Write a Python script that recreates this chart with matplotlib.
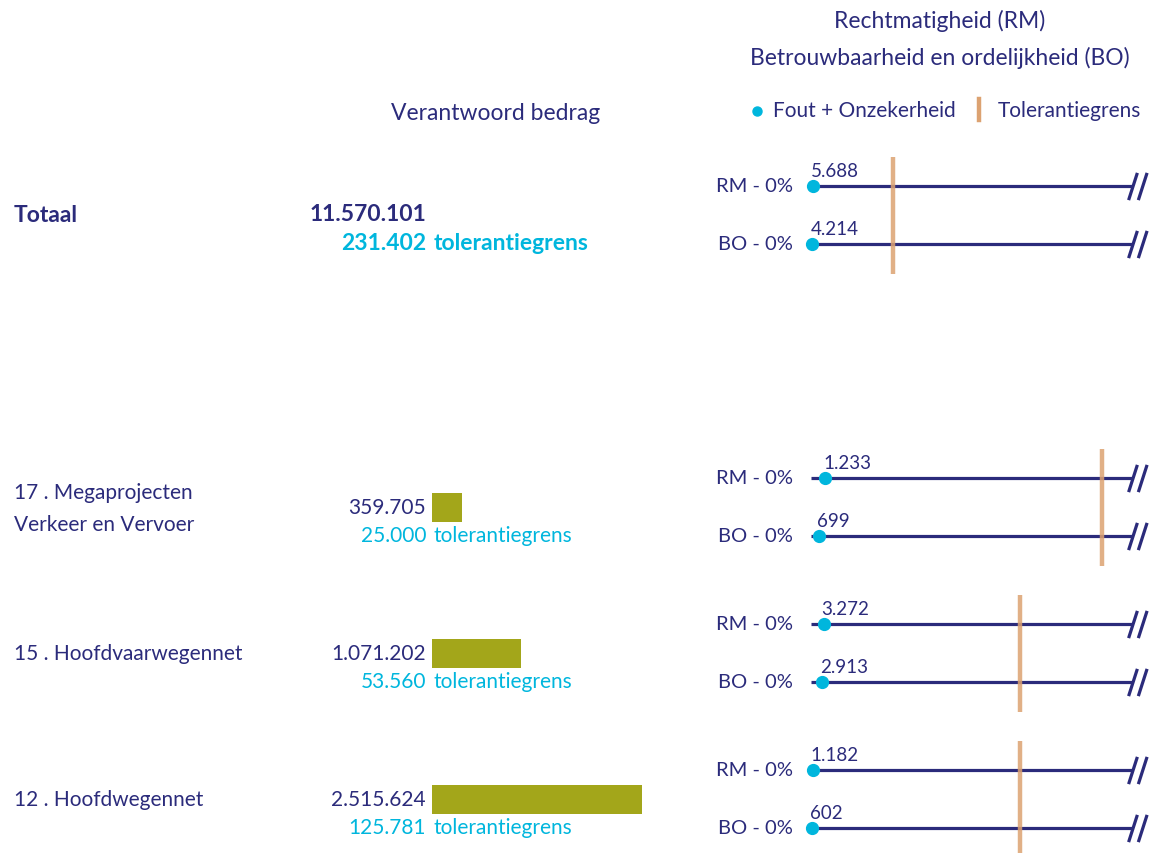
import matplotlib
matplotlib.use("Agg")
import matplotlib.pyplot as plt
from matplotlib.lines import Line2D
from matplotlib.path import Path

# ---------------- data ----------------
groups = ["Totaal", "17 . Megaprojecten\nVerkeer en Vervoer", "15 . Hoofdvaarwegennet", "12 . Hoofdwegennet"]
amounts = [11570101, 359705, 1071202, 2515624]
tolerances = [231402, 25000, 53560, 125781]
rm_values = [5688, 1233, 3272, 1182]
bo_values = [4214, 699, 2913, 602]
row_labels = ["RM - 0%", "BO - 0%"]
show_bar = [False, True, True, True]

# ---------------- style ----------------
NAVY = "#2b2b7b"
CYAN = "#00b6dd"
TAN = "#dca271"
OLIVE = "#a3a61a"
FONT = "Lato"
plt.rcParams["font.family"] = [FONT, "DejaVu Sans"]

W, H = 1154, 854
fig = plt.figure(figsize=(W / 100, H / 100), dpi=100)


def fx(x):
    return x / W


def fy(y):
    return 1 - y / H


def px_axes(x0, y0, x1, y1):
    return fig.add_axes([fx(x0), fy(y1), fx(x1) - fx(x0), fy(y0) - fy(y1)])


def fmt(v):
    return f"{v:,}".replace(",", ".")


FS = 15
FS_HEAD = 16.5
FS_BOLD = 16.5
FS_ROW = 14.5
FS_VAL = 13.5

# header
fig.text(fx(940), fy(21), "Rechtmatigheid (RM)", ha="center", va="center", color=NAVY, fontsize=FS_HEAD)
fig.text(fx(940), fy(58), "Betrouwbaarheid en ordelijkheid (BO)", ha="center", va="center", color=NAVY, fontsize=FS_HEAD)
fig.text(fx(496), fy(114), "Verantwoord bedrag", ha="center", va="center", color=NAVY, fontsize=FS_HEAD)

# legend
fig.add_artist(Line2D([fx(757)], [fy(112)], marker="o", color=CYAN, markersize=6.5, transform=fig.transFigure))
fig.text(fx(773), fy(111), "Fout + Onzekerheid", ha="left", va="center", color=NAVY, fontsize=FS)
fig.add_artist(Line2D([fx(979), fx(979)], [fy(100), fy(121)], color=TAN, lw=3.2, transform=fig.transFigure))
fig.text(fx(998), fy(111), "Tolerantiegrens", ha="left", va="center", color=NAVY, fontsize=FS)

# layout anchors (pixel rows)
label_y = [216, 508, 654, 800]
amount_y = [215, 508, 654, 800]
tol_y = [243, 536, 682, 828]
rm_y = [187, 479, 625, 771]
row_gap = 58
line_x0, line_x1 = 811, 1132
tol_px = [893, 1102, 1020, 1020]  # pixel position of tolerance line (sets each broken axis scale)

bar_px_per_unit = 210 / 2515624
bar_w_px = 700

break_marker = Path([(-4, -14), (5, 14), (6, -14), (15, 14)],
                    [Path.MOVETO, Path.LINETO, Path.MOVETO, Path.LINETO])

for i, g in enumerate(groups):
    is_total = i == 0
    weight = "bold" if is_total else "normal"
    fs_main = FS_BOLD if is_total else FS
    # left label
    if "\n" in g:
        l1, l2 = g.split("\n")
        fig.text(fx(14), fy(493), l1, ha="left", va="center", color=NAVY, fontsize=FS)
        fig.text(fx(14), fy(525), l2, ha="left", va="center", color=NAVY, fontsize=FS)
    else:
        fig.text(fx(14), fy(label_y[i]), g, ha="left", va="center", color=NAVY, fontsize=fs_main, fontweight=weight)

    # amount + tolerance texts
    fig.text(fx(426), fy(amount_y[i]), fmt(amounts[i]), ha="right", va="center", color=NAVY,
             fontsize=fs_main, fontweight=weight)
    fig.text(fx(426), fy(tol_y[i]), fmt(tolerances[i]), ha="right", va="center", color=CYAN,
             fontsize=fs_main, fontweight=weight)
    fig.text(fx(434), fy(tol_y[i]), "tolerantiegrens", ha="left", va="center", color=CYAN,
             fontsize=fs_main, fontweight=weight)

    # bar
    if show_bar[i]:
        bax = px_axes(432, amount_y[i] - 14.5, 432 + bar_w_px, amount_y[i] + 14.5)
        bax.barh([0], [amounts[i]], height=1.0, color=OLIVE, left=0)
        bax.set_xlim(0, bar_w_px / bar_px_per_unit)
        bax.set_ylim(-0.5, 0.5)
        bax.axis("off")

    # dot plot (broken axis)
    xmax = tolerances[i] * (line_x1 - line_x0) / (tol_px[i] - line_x0)
    top = rm_y[i] - 29
    bottom = rm_y[i] + row_gap + 30
    ax = px_axes(line_x0, top, line_x1, bottom)
    ax.set_xlim(0, xmax)
    ax.set_ylim(1 + 30 / row_gap, -29 / row_gap)
    ax.axis("off")
    rows = [0, 1]
    vals = [rm_values[i], bo_values[i]]
    ax.hlines(rows, 0, xmax, color=NAVY, lw=2.3, zorder=1)
    ax.plot([xmax, xmax], rows, linestyle="none", marker=break_marker, markersize=21,
            mec=NAVY, mfc="none", mew=2.3, clip_on=False, zorder=2)
    ax.plot(vals, rows, "o", color=CYAN, markersize=8.5, clip_on=False, zorder=3)
    ax.axvline(tolerances[i], color=TAN, lw=3.2, alpha=0.85, zorder=4)
    for r, v in zip(rows, vals):
        ax.annotate(fmt(v), (v, r), xytext=(-1.5, 11), textcoords="offset points",
                    ha="left", va="center", color=NAVY, fontsize=FS_VAL, annotation_clip=False)
    for r, lab in zip(rows, row_labels):
        ax.annotate(lab, (0, r), xytext=(-13, 0), textcoords="offset points",
                    ha="right", va="center", color=NAVY, fontsize=FS_ROW, annotation_clip=False)

fig.savefig("out.png", dpi=100, facecolor="white")
